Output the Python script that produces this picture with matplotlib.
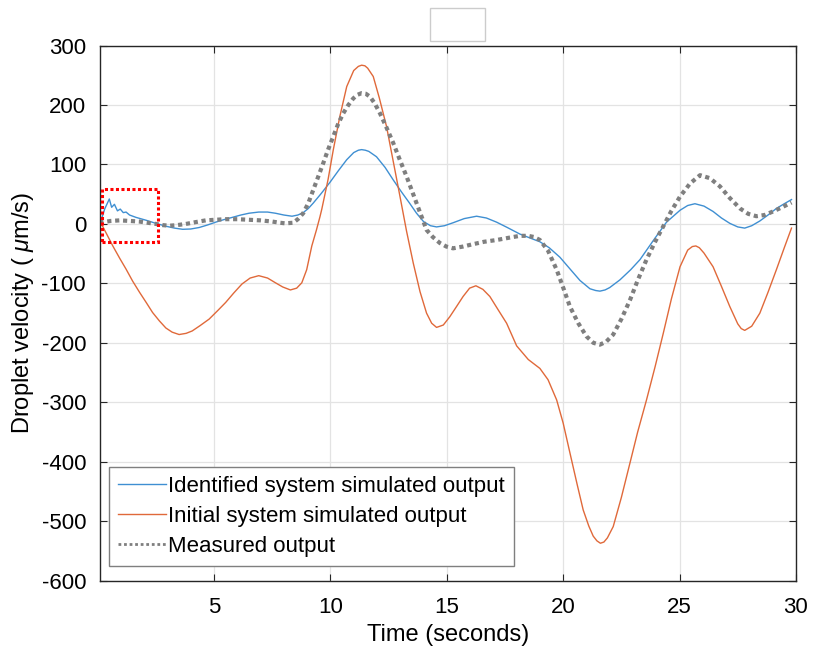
import matplotlib
matplotlib.use("Agg")
import matplotlib.pyplot as plt
from matplotlib.lines import Line2D
from matplotlib.patches import Rectangle

plt.rcParams["font.family"] = ["Liberation Sans", "DejaVu Sans"]
plt.rcParams["mathtext.fontset"] = "custom"
plt.rcParams["mathtext.it"] = "Liberation Sans:italic"
plt.rcParams["axes.unicode_minus"] = False

# identified system simulated output
t_ident = [0.1, 0.3, 0.5, 0.6, 0.72, 0.85, 0.97, 1.1, 1.22, 1.37, 1.65, 2.1, 2.5, 2.95,
           3.3, 3.65, 4.0, 4.36, 4.7, 5.07, 5.4, 5.78, 6.15, 6.5, 6.92, 7.3, 7.64, 8.0,
           8.35, 8.6, 8.83, 9.05, 9.26, 9.6, 9.98, 10.35, 10.7, 11.0, 11.2, 11.34, 11.5,
           11.65, 11.98, 12.35, 12.7, 13.05, 13.4, 13.7, 14.0, 14.3, 14.56, 14.9, 15.27,
           15.75, 16.28, 16.7, 17.14, 17.6, 18.14, 18.6, 19.0, 19.4, 19.86, 20.3, 20.72,
           21.15, 21.4, 21.58, 21.8, 22.0, 22.44, 22.9, 23.3, 23.87, 24.44, 25.02, 25.35,
           25.66, 26.05, 26.44, 26.8, 27.16, 27.5, 27.8, 28.1, 28.45, 28.8, 29.16, 29.5,
           29.81]
v_ident = [0, 25, 42, 28, 33, 22, 25, 19, 20, 15, 11, 6, 1, -4,
           -7, -9, -8.5, -6, -2, 3, 7, 11, 15, 18, 20, 20, 18, 15,
           13, 15, 19, 26, 35, 51, 70, 90, 108, 120, 124, 125, 124,
           122, 113, 95, 74, 54, 35, 18, 4, -3, -5, -3, 2,
           9, 13, 10, 3, -6, -17, -24, -30, -40, -56, -76, -95,
           -109, -112, -113, -111, -107, -94, -77, -60, -28, 3, 23, 31,
           34, 30, 21, 10, 1, -5, -7, -3, 5, 15, 26, 34,
           41]

# initial system simulated output
t_init = [0.1, 0.2, 0.4, 0.65, 0.95, 1.22, 1.5, 1.8, 2.1, 2.36, 2.65, 2.93, 3.2, 3.5,
          3.8, 4.06, 4.4, 4.79, 5.15, 5.5, 5.85, 6.2, 6.55, 6.92, 7.3, 7.64, 7.95, 8.28,
          8.55, 8.77, 8.98, 9.2, 9.4, 9.55, 9.63, 9.9, 10.12, 10.4, 10.7, 11.0, 11.2,
          11.34, 11.48, 11.6, 11.84, 12.1, 12.41, 12.7, 12.99, 13.27, 13.56, 13.85, 14.13,
          14.35, 14.56, 14.85, 15.13, 15.4, 15.7, 15.98, 16.25, 16.55, 16.85, 17.2, 17.57,
          18.0, 18.5, 19.0, 19.35, 19.72, 20.0, 20.29, 20.6, 20.86, 21.1, 21.29, 21.45,
          21.6, 21.75, 21.9, 22.15, 22.5, 22.87, 23.2, 23.58, 23.95, 24.3, 24.65, 25.02,
          25.35, 25.55, 25.7, 25.85, 26.05, 26.44, 26.8, 27.16, 27.5, 27.65, 27.8, 28.1,
          28.45, 28.8, 29.16, 29.5, 29.81]
v_init = [0, -3, -18, -37, -58, -76, -96, -115, -133, -149, -163, -175, -182, -186,
          -184, -180, -171, -160, -146, -132, -116, -101, -91, -87, -91, -99, -106, -111,
          -108, -99, -77, -37, -10, 12, 25, 75, 124, 180, 231, 258, 265,
          267, 266, 262, 248, 212, 164, 105, 46, -12, -66, -114, -150,
          -167, -174, -170, -156, -140, -122, -108, -104, -110, -122, -144, -167,
          -205, -228, -243, -262, -296, -335, -385, -438, -481, -508, -525, -533,
          -537, -535, -528, -509, -460, -402, -350, -296, -240, -184, -126, -72,
          -44, -38, -37, -40, -49, -72, -105, -139, -168, -176, -179, -172,
          -150, -115, -77, -40, -7]

# measured output
t_meas = [0.1, 0.2, 0.55, 0.94, 1.4, 1.8, 2.15, 2.5, 2.8, 3.08, 3.4, 3.79, 4.2, 4.64,
          5.05, 5.5, 6.0, 6.5, 7.0, 7.5, 7.83, 8.06, 8.4, 8.6, 8.83, 9.05, 9.26, 9.48,
          9.69, 9.9, 10.12, 10.33, 10.55, 10.77, 10.98, 11.15, 11.34, 11.52, 11.7, 11.9,
          12.13, 12.4, 12.7, 12.98, 13.27, 13.5, 13.7, 13.92, 14.13, 14.4, 14.7, 14.98,
          15.27, 15.7, 16.13, 16.6, 17.14, 17.7, 18.14, 18.5, 18.75, 19.0, 19.35, 19.72,
          20.0, 20.29, 20.65, 21.0, 21.3, 21.58, 21.85, 22.15, 22.5, 22.87, 23.2, 23.58,
          23.95, 24.3, 24.65, 25.02, 25.45, 25.88, 26.3, 26.74, 27.15, 27.6, 27.95, 28.3,
          28.65, 29.02, 29.4, 29.81]
v_meas = [0, 3, 5, 6, 5, 4, 2, 0, -2, -3, -2, 0, 3, 6,
          7, 8, 8, 7, 6, 4, 2, 1, 2, 8, 18, 35, 57, 80,
          102, 125, 147, 168, 186, 200, 211, 217, 220, 219, 214, 203,
          186, 163, 136, 108, 80, 56, 35, 12, -10, -22, -32, -38,
          -41, -38, -34, -30, -27, -23, -20, -20, -22, -27, -45, -77,
          -107, -139, -167, -189, -200, -203, -198, -186, -160, -128, -95, -60,
          -30, -4, 22, 46, 68, 82, 77, 63, 44, 26, 17, 13,
          15, 21, 28, 36]

# zoom box corners (time, velocity)
box_t = [0.2, 2.6]
box_v = [-31, 59]

labels = ["Identified system simulated output",
          "Initial system simulated output",
          "Measured output"]
x_ticks = [5, 10, 15, 20, 25, 30]
y_ticks = [300, 200, 100, 0, -100, -200, -300, -400, -500, -600]

blue = "#3f8fd2"
orange = "#e0693a"
gray = "#7f7f7f"

fig = plt.figure(figsize=(8.13, 6.51), dpi=100)
ax = fig.add_axes([0.123, 0.108, 0.856, 0.822])

ax.plot(t_ident, v_ident, color=blue, linewidth=1.0)
ax.plot(t_init, v_init, color=orange, linewidth=1.0)
ax.plot(t_meas, v_meas, color=gray, linewidth=3.0, linestyle=(0, (1, 0.9)))

ax.add_patch(Rectangle((box_t[0], box_v[0]), box_t[1] - box_t[0], box_v[1] - box_v[0],
                       fill=False, edgecolor="#ff0000", linewidth=2.2,
                       linestyle=(0, (1, 0.8)), zorder=5))

ax.set_xlim(0.1, 30)
ax.set_ylim(-600, 300)
ax.set_xticks(x_ticks)
ax.set_yticks(y_ticks)
ax.tick_params(direction="in", top=True, right=True, labelsize=16, length=5,
               color="#262626")
ax.tick_params(axis="x", pad=12)
ax.tick_params(axis="y", pad=10)
ax.grid(True, color="#e3e3e3", linewidth=0.9)
ax.set_axisbelow(True)
for s in ax.spines.values():
    s.set_color("#262626")
    s.set_linewidth(1.0)

ax.set_xlabel("Time (seconds)", fontsize=17, labelpad=4)
ax.set_ylabel(r"Droplet velocity ( $\mu$m/s)", fontsize=17, labelpad=4)

# legend handles are drawn thin like the reference
handles = [Line2D([], [], color=blue, linewidth=1.0),
           Line2D([], [], color=orange, linewidth=1.0),
           Line2D([], [], color=gray, linewidth=2.0, linestyle=(0, (1, 1)))]
leg = ax.legend(handles, labels, loc="lower left", bbox_to_anchor=(0.013, 0.028),
                borderaxespad=0, fontsize=16, labelspacing=0.4, handlelength=2.15,
                handletextpad=0.1, borderpad=0.4, fancybox=False, framealpha=1,
                edgecolor="#7f7f7f")
leg.get_frame().set_linewidth(1.0)

# empty title box above the axes
fig.patches.append(Rectangle((0.529, 0.937), 0.0677, 0.0507, transform=fig.transFigure,
                             fill=True, facecolor="white", edgecolor="#cccccc",
                             linewidth=1.0))

fig.savefig("out.png", dpi=100)
